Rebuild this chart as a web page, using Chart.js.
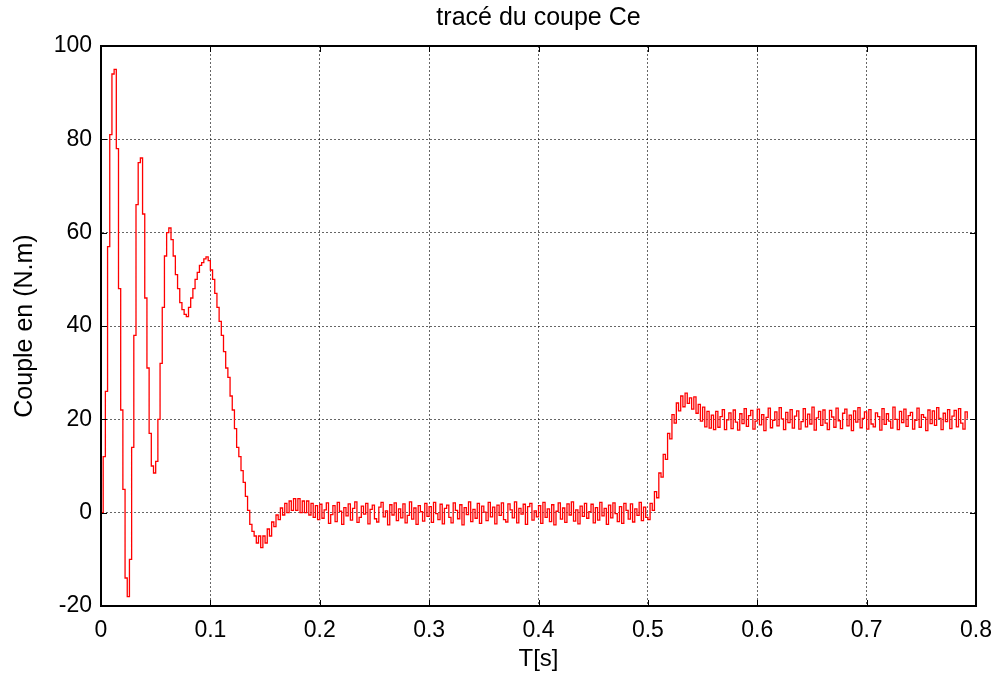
<!DOCTYPE html>
<html>
<head>
<meta charset="utf-8">
<title>tracé du coupe Ce</title>
<script src="https://cdn.jsdelivr.net/npm/chart.js@4"></script>
<style>
  html, body { margin: 0; padding: 0; background: #fff; }
  canvas { display: block; }
</style>
</head>
<body>
<canvas id="coupleChart" width="1003" height="680"></canvas>
<script>
// pas d'echantillonnage de la simulation (s)
const pasEchantillon = 0.002;

// démarrage à vide : 0 -> 0.198 s
const coupleDemarrage = [
    0, 12, 26, 57, 81, 94, 95, 78, 48, 22,
    5, -14, -18, -10, 14, 38, 66, 75, 76, 64,
    46, 31, 17, 10, 8.5, 11, 20, 32, 44, 55,
    60, 61, 58.5, 55, 51, 48, 45, 43.5, 42.5, 42,
    44, 46, 48, 50, 51.5, 53, 53.6, 54.4, 54.8, 54,
    52, 50, 47, 44, 41, 38, 34.5, 31, 29, 25,
    22, 18, 14, 12, 9, 6.5, 3.5, 0.5, -2.5, -4,
    -5, -6.5, -5, -7.5, -5, -6.5, -3.5, -5, -2, -3,
    -0.5, -1.5, 1, -0.5, 2, 0, 2.5, 0.5, 3, 0.5,
    3, 0, 2.5, 0, 2.5, -0.5, 2, -1, 1.5, -1.5
];

// régime établi à vide : 0.2 -> 0.498 s
const coupleVide = [
    1.8, -1.2, 0.6, 2.1, -2.3, -0.4, 1.5, -1.9, 2.2, 0.3,
    -2.5, 1.1, -0.7, 1.9, -1.6, 0.9, 2.3, -2.1, -1.0, 1.4,
    -0.3, 2.0, -2.4, 0.7, 1.6, -1.3, -2.0, 1.2, 2.2, -0.9,
    0.4, -2.6, 1.7, -0.5, 2.1, -1.7, 0.8, -1.1, 1.9, -2.2,
    -0.6, 2.3, -1.4, 1.0, -2.5, 1.5, 0.2, -1.8, 2.0, -0.8,
    1.3, -2.1, 2.2, -0.2, -1.5, 1.8, -2.4, 0.9, 1.6, -1.0,
    -2.2, 2.1, 0.5, -1.3, 1.7, -2.6, 1.1, -0.4, 2.3, -1.9,
    0.7, -1.2, 2.0, -2.3, 1.4, 0.1, -1.7, 2.2, -0.9, 1.2,
    -2.4, 1.6, -0.6, 2.1, -1.5, -2.0, 1.9, 0.6, -1.1, 2.3,
    -2.2, 0.9, -0.3, 1.8, -2.5, 1.3, 2.0, -1.6, 0.4, -0.9,
    1.5, -2.3, 2.2, -1.0, 0.8, -1.9, 1.7, -2.6, 0.3, 2.1,
    -1.4, 1.0, -2.1, 1.9, -0.5, 2.3, -1.8, 0.6, -2.4, 1.4,
    -0.8, 2.0, -1.2, 0.2, 1.8, -2.2, 1.1, -1.6, 2.2, -0.7,
    0.9, -2.5, 1.6, -1.1, 2.1, -0.2, -1.9, 1.3, -2.3, 2.0,
    0.5, -1.4, 1.9, -2.0, 0.8, -0.6, 2.2, -1.7, 1.2, -1.0
];

// application de la charge : 0.5 -> 0.56 s
const coupleMontee = [
    -1.5, 2.0, 0.5, 4.5, 3.2, 8.5, 7.6, 12.5, 11.4, 17.0,
    15.8, 21.0, 19.2, 23.5, 21.8, 25.0, 22.7, 25.6, 23.4, 24.6,
    22.2, 24.8, 21.3, 23.2, 19.6, 22.6, 18.4, 21.7, 18.1, 20.9,
    17.8
];

// régime établi en charge : 0.562 -> 0.792 s
const coupleCharge = [
    21.7, 18.3, 20.6, 22.1, 17.8, 19.9, 21.4, 18.0, 22.0, 19.4,
    17.7, 21.2, 19.1, 22.3, 18.5, 20.8, 21.9, 17.9, 19.6, 22.2,
    18.8, 21.0, 17.6, 20.4, 22.4, 18.2, 19.8, 21.6, 18.6, 22.5,
    20.1, 17.8, 21.5, 19.3, 22.1, 18.1, 20.7, 21.8, 17.9, 19.5,
    22.3, 18.4, 21.1, 19.0, 22.6, 17.7, 20.3, 21.7, 18.7, 22.0,
    19.2, 17.8, 21.9, 20.5, 18.3, 22.4, 19.7, 18.0, 21.3, 22.2,
    18.6, 20.9, 17.6, 21.8, 19.4, 22.5, 18.2, 20.2, 21.6, 17.9,
    22.1, 19.0, 18.4, 21.4, 20.6, 17.7, 22.3, 18.9, 21.2, 19.6,
    18.1, 22.6, 20.0, 17.8, 21.7, 19.3, 22.2, 18.5, 20.8, 21.5,
    17.9, 19.8, 22.4, 18.3, 21.0, 20.4, 17.6, 22.0, 19.1, 21.8,
    18.7, 22.5, 20.2, 17.8, 21.3, 19.5, 22.1, 18.0, 20.7, 21.9,
    18.4, 22.3, 19.2, 17.9, 21.6, 20.1
];

const xTicks = [0, 0.1, 0.2, 0.3, 0.4, 0.5, 0.6, 0.7, 0.8];
const yTicks = [-20, 0, 20, 40, 60, 80, 100];

const couple = [...coupleDemarrage, ...coupleVide, ...coupleMontee, ...coupleCharge];
const points = couple.map((v, i) => ({ x: i * pasEchantillon, y: v }));

const police = "Arial, 'Liberation Sans', sans-serif";

// cadre noir + petites graduations vers l'intérieur (style matlab)
const cadre = {
    id: 'cadre',
    afterDraw(chart) {
        const { ctx, chartArea: a, scales: { x, y } } = chart;
        const L = 6;
        ctx.save();
        ctx.strokeStyle = '#000';
        ctx.lineWidth = 1;
        ctx.beginPath();
        xTicks.forEach(t => {
            const px = Math.round(x.getPixelForValue(t)) + 0.5;
            ctx.moveTo(px, a.bottom); ctx.lineTo(px, a.bottom - L);
            ctx.moveTo(px, a.top); ctx.lineTo(px, a.top + L);
        });
        yTicks.forEach(t => {
            const py = Math.round(y.getPixelForValue(t)) + 0.5;
            ctx.moveTo(a.left, py); ctx.lineTo(a.left + L, py);
            ctx.moveTo(a.right, py); ctx.lineTo(a.right - L, py);
        });
        ctx.stroke();
        ctx.lineWidth = 2;
        ctx.strokeRect(a.left, a.top, a.right - a.left, a.bottom - a.top);
        ctx.restore();
    }
};

new Chart(document.getElementById('coupleChart'), {
    type: 'line',
    data: {
        datasets: [{
            label: 'Ce',
            data: points,
            borderColor: '#ff0000',
            borderWidth: 1.3,
            pointRadius: 0,
            stepped: true,
            fill: false
        }]
    },
    options: {
        responsive: false,
        animation: false,
        layout: { padding: { top: 0, right: 21, bottom: 0, left: 0 } },
        plugins: {
            legend: { display: false },
            tooltip: { enabled: false },
            title: {
                display: true,
                text: 'tracé du coupe Ce',
                fullSize: false,
                color: '#000',
                font: { family: police, size: 25, weight: 'normal' },
                padding: { top: 3, bottom: 13 }
            }
        },
        scales: {
            x: {
                type: 'linear',
                min: 0,
                max: 0.8,
                afterFit: s => { s.height = 74; },
                afterBuildTicks: s => { s.ticks = xTicks.map(v => ({ value: v })); },
                ticks: {
                    color: '#000',
                    font: { family: police, size: 23 },
                    padding: 11,
                    maxRotation: 0,
                    autoSkip: false,
                    callback: v => String(+v.toFixed(1))
                },
                grid: { color: 'rgba(0,0,0,0.6)', drawTicks: false },
                border: { display: true, color: '#000', width: 2, dash: [2, 2] },
                title: {
                    display: true,
                    text: 'T[s]',
                    color: '#000',
                    font: { family: police, size: 24 },
                    padding: { top: 0, bottom: 6 }
                }
            },
            y: {
                min: -20,
                max: 100,
                afterFit: s => { s.width = 101; },
                afterBuildTicks: s => { s.ticks = yTicks.map(v => ({ value: v })); },
                ticks: {
                    color: '#000',
                    font: { family: police, size: 23 },
                    padding: 9
                },
                grid: { color: 'rgba(0,0,0,0.6)', drawTicks: false },
                border: { display: true, color: '#000', width: 2, dash: [2, 2] },
                title: {
                    display: true,
                    text: 'Couple en (N.m)',
                    color: '#000',
                    font: { family: police, size: 25 },
                    padding: { top: 10, bottom: 0 }
                }
            }
        }
    },
    plugins: [cadre]
});
</script>
</body>
</html>
